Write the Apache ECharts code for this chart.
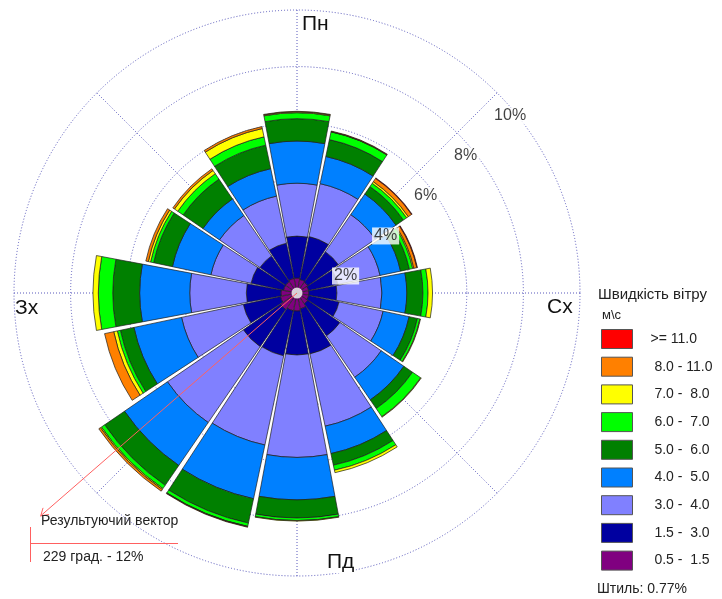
<!DOCTYPE html>
<html>
<head>
<meta charset="utf-8">
<title>Роза вітрів</title>
<script src="https://cdn.jsdelivr.net/npm/echarts@6/dist/echarts.min.js"></script>
<style>
  html, body { margin: 0; padding: 0; background: #ffffff; }
  #chart { width: 722px; height: 599px; }
</style>
</head>
<body>
<div id="chart"></div>
<script>
// Wind directions, clockwise from north
const directions = ['N', 'NNE', 'NE', 'ENE', 'E', 'ESE', 'SE', 'SSE',
                    'S', 'SSW', 'SW', 'WSW', 'W', 'WNW', 'NW', 'NNW'];

// Frequency (%) of each wind-speed class per direction
const speed_0_5  = [0.53, 0.49, 0.46, 0.42, 0.42, 0.42, 0.46, 0.57, 0.64, 0.64, 0.71, 0.60, 0.57, 0.49, 0.49, 0.53];
const speed_1_5  = [1.48, 1.55, 1.31, 1.06, 0.99, 1.10, 1.38, 1.63, 1.55, 1.63, 1.59, 1.34, 1.22, 1.17, 1.10, 1.27];
const speed_3_0  = [1.87, 1.91, 1.59, 1.52, 1.59, 1.59, 1.77, 2.61, 3.62, 3.22, 3.25, 2.23, 2.00, 1.45, 1.73, 1.70];
const speed_4_0  = [1.49, 0.98, 0.88, 0.74, 0.88, 0.94, 0.97, 0.99, 1.50, 1.94, 1.84, 1.72, 1.77, 1.39, 0.71, 0.99];
const speed_5_0  = [0.79, 0.61, 0.32, 0.32, 0.57, 0.30, 0.37, 0.42, 0.64, 0.88, 0.85, 0.49, 0.95, 0.68, 0.85, 0.85];
const speed_6_0  = [0.21, 0.28, 0.14, 0.12, 0.18, 0.09, 0.35, 0.18, 0.09, 0.12, 0.14, 0.11, 0.51, 0.11, 0.23, 0.30];
const speed_7_0  = [0.03, 0.01, 0.07, 0.04, 0.16, 0.02, 0.02, 0.09, 0.02, 0.01, 0.04, 0.13, 0.19, 0.08, 0.14, 0.30];
const speed_8_0  = [0.02, 0.02, 0.14, 0.11, 0.00, 0.00, 0.00, 0.00, 0.00, 0.02, 0.07, 0.33, 0.00, 0.09, 0.07, 0.07];
const speed_11_0 = [0.00, 0.00, 0.02, 0.02, 0.00, 0.00, 0.00, 0.00, 0.00, 0.00, 0.00, 0.00, 0.00, 0.00, 0.00, 0.00];

// Speed class names (m/s), innermost first
const speedLabels = [' 0.5 -  1.5', ' 1.5 -  3.0', ' 3.0 -  4.0', ' 4.0 -  5.0', ' 5.0 -  6.0',
                     ' 6.0 -  7.0', ' 7.0 -  8.0', ' 8.0 - 11.0', '>= 11.0'];
const speedColors = ['#800080', '#0000a0', '#8080ff', '#0080ff', '#008000',
                     '#00ff00', '#ffff00', '#ff8000', '#ff0000'];
const speedValues = [speed_0_5, speed_1_5, speed_3_0, speed_4_0, speed_5_0,
                     speed_6_0, speed_7_0, speed_8_0, speed_11_0];

// Rings (%) and their labels
const ringValues = [2, 4, 6, 8, 10];

// Calm share and resultant wind vector
const calmPercent = 0.77;
const resultantDirection = 229;   // degrees clockwise from north
const resultantPercent = 12;

const FONT = '"Liberation Sans", Arial, Helvetica, sans-serif';
const GRID = '#5858bc';
const VECTOR = '#ff6060';
const CENTER = [297, 293];
const RADIUS = 283;
const RING_MAX = 10;
// a wider polar with the same scale, so the long resultant vector is not clipped
const VECTOR_MAX = 12;

const chart = echarts.init(document.getElementById('chart'), null, { renderer: 'canvas' });

const hidden = { show: false };

const barSeries = speedValues.map((vals, i) => ({
  name: speedLabels[i],
  type: 'bar',
  coordinateSystem: 'polar',
  polarIndex: 0,
  stack: 'rose',
  barCategoryGap: '6%',
  data: vals.map(v => (v > 0 ? v : '-')),
  itemStyle: { color: speedColors[i], borderColor: '#1e1e1e', borderWidth: 0.7 },
  emphasis: { disabled: true },
  z: 2
}));

const option = {
  animation: false,
  backgroundColor: '#ffffff',
  polar: [
    { center: CENTER, radius: RADIUS },
    { center: CENTER, radius: RADIUS },
    { center: CENTER, radius: RADIUS * VECTOR_MAX / RING_MAX }
  ],
  angleAxis: [
    {
      polarIndex: 0, type: 'category', data: directions,
      startAngle: 90 + 360 / directions.length / 2, clockwise: true,
      axisLine: hidden, axisTick: hidden, axisLabel: hidden, splitLine: hidden
    },
    {
      polarIndex: 1, type: 'value', min: 0, max: 360, interval: 45,
      startAngle: 90, clockwise: true,
      axisLine: hidden, axisTick: hidden, axisLabel: hidden,
      splitLine: { show: true, lineStyle: { color: GRID, width: 1, type: [1, 2] } }
    },
    {
      polarIndex: 2, type: 'value', min: 0, max: 360,
      startAngle: 90, clockwise: true,
      axisLine: hidden, axisTick: hidden, axisLabel: hidden, splitLine: hidden
    }
  ],
  radiusAxis: [
    {
      polarIndex: 0, type: 'value', min: 0, max: RING_MAX,
      axisLine: hidden, axisTick: hidden, axisLabel: hidden, splitLine: hidden
    },
    {
      polarIndex: 1, type: 'value', min: 0, max: RING_MAX, interval: 2,
      axisLine: hidden, axisTick: hidden, axisLabel: hidden,
      splitLine: { show: true, lineStyle: { color: GRID, width: 1, type: [1, 2] } }
    },
    {
      polarIndex: 2, type: 'value', min: 0, max: VECTOR_MAX,
      axisLine: hidden, axisTick: hidden, axisLabel: hidden, splitLine: hidden
    }
  ],
  legend: {
    orient: 'vertical',
    left: 601, top: 329,
    padding: 0,
    itemWidth: 31, itemHeight: 19, itemGap: 7.7,
    icon: 'rect',
    selectedMode: false,
    data: speedLabels.slice().reverse(),
    itemStyle: { borderColor: '#555555', borderWidth: 1 },
    formatter: name => '{g|}' + name,
    textStyle: {
      fontFamily: FONT, fontSize: 14, color: '#222222', lineHeight: 16,
      rich: { g: { width: 13, lineHeight: 16 } }
    }
  },
  series: [
    ...barSeries,
    {
      // calm hole in the middle
      type: 'scatter', coordinateSystem: 'polar', polarIndex: 1,
      data: [[0, 0]], symbol: 'circle', symbolSize: 11,
      itemStyle: { color: '#ffffff' }, silent: true, z: 5
    },
    {
      // resultant wind vector
      type: 'line', coordinateSystem: 'polar', polarIndex: 2,
      clip: false, silent: true, z: 6,
      data: [
        { value: [0, resultantDirection], symbol: 'none' },
        {
          value: [resultantPercent, resultantDirection],
          symbol: 'path://M-5,-8 L0,0 L5,-8 M0,8',
          symbolSize: [9, 14],
          symbolRotate: 180 - resultantDirection
        }
      ],
      lineStyle: { color: VECTOR, width: 1 },
      itemStyle: { color: 'rgba(0,0,0,0)', borderColor: VECTOR, borderWidth: 1 }
    },
    {
      // ring labels along the north-east diagonal
      type: 'scatter', coordinateSystem: 'polar', polarIndex: 1,
      data: ringValues.map(r => [r, 45]),
      symbolSize: 0, silent: true, z: 8,
      label: {
        show: true, position: 'inside', align: 'left', verticalAlign: 'middle',
        offset: [-5, 23],
        formatter: p => p.value[0] + '%',
        fontFamily: FONT, fontSize: 16, color: '#111111',
        backgroundColor: '#ffffff', padding: [1, 2, 0, 2]
      }
    }
  ],
  graphic: [
    // compass points
    { type: 'text', left: 302, top: 14, z: 10,
      style: { text: 'Пн', font: '21px ' + FONT, fill: '#111111' } },
    { type: 'text', left: 547, top: 297, z: 10,
      style: { text: 'Сх', font: '21px ' + FONT, fill: '#111111' } },
    { type: 'text', left: 15, top: 298, z: 10,
      style: { text: 'Зх', font: '21px ' + FONT, fill: '#111111' } },
    { type: 'text', left: 326, top: 552, z: 10,
      style: { text: 'Пд', font: '21px ' + FONT, fill: '#111111',
               backgroundColor: '#ffffff', padding: [0, 1] } },

    // speed legend headings
    { type: 'text', left: 598, top: 287, z: 10,
      style: { text: 'Швидкість вітру', font: '15px ' + FONT, fill: '#222222' } },
    { type: 'text', left: 602, top: 309, z: 10,
      style: { text: 'м\\с', font: '13px ' + FONT, fill: '#222222' } },
    { type: 'text', left: 597, top: 582, z: 10,
      style: { text: 'Штиль: ' + calmPercent.toFixed(2) + '%', font: '14px ' + FONT, fill: '#222222' } },

    // resultant vector caption
    { type: 'line', z: 10, silent: true,
      shape: { x1: 30.5, y1: 543.5, x2: 178, y2: 543.5 },
      style: { stroke: VECTOR, lineWidth: 1 } },
    { type: 'line', z: 10, silent: true,
      shape: { x1: 30.5, y1: 527, x2: 30.5, y2: 562 },
      style: { stroke: VECTOR, lineWidth: 1 } },
    { type: 'text', left: 41, top: 514, z: 10,
      style: { text: 'Результуючий вектор', font: '14px ' + FONT, fill: '#222222' } },
    { type: 'text', left: 43, top: 550, z: 10,
      style: { text: resultantDirection + ' град. - ' + resultantPercent + '%', font: '14px ' + FONT, fill: '#222222' } }
  ]
};

chart.setOption(option);
</script>
</body>
</html>
